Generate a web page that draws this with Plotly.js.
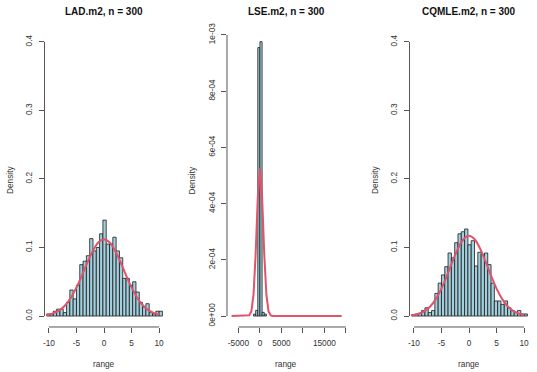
<!DOCTYPE html>
<html>
<head>
<meta charset="utf-8">
<script src="https://cdn.plot.ly/plotly-3.0.1.min.js"></script>
<style>
  body { margin: 0; background: #fff; }
  #plot-hist { width: 537px; height: 372px; }
</style>
</head>
<body>
<div id="plot-hist"></div>
<script>
// histogram densities, bins of 0.6 starting at -10.4
const binStart = -10.4;
const binWidth = 0.6;
const ladDensity = [0.003, 0.003, 0.007, 0.01, 0.01, 0.005, 0.02, 0.038, 0.025, 0.045,
    0.075, 0.08, 0.088, 0.113, 0.095, 0.1, 0.12, 0.14, 0.105, 0.105,
    0.115, 0.095, 0.085, 0.055, 0.055, 0.045, 0.05, 0.035, 0.02, 0.013,
    0.018, 0.005, 0.003, 0.007, 0.007];
const cqmleDensity = [0.002, 0.003, 0.004, 0.008, 0.012, 0.005, 0.008, 0.033, 0.048, 0.06,
    0.072, 0.092, 0.085, 0.107, 0.12, 0.123, 0.127, 0.104, 0.11, 0.073,
    0.093, 0.09, 0.092, 0.075, 0.048, 0.022, 0.022, 0.017, 0.022, 0.012,
    0.008, 0.005, 0.008, 0.003, 0.003];

// LSE bins are 500 wide
const lseBreaks = [-1500, -1000, -500, 0, 500, 1000, 1500];
const lseDensity = [6.7e-6, 2.0e-5, 9.55e-4, 9.76e-4, 1.3e-5, 6.7e-6];

// red density curves
const curveX = [-10.5, -10, -9, -8, -7, -6, -5, -4, -3, -2, -1, 0, 1, 2, 3, 4, 5, 6, 7, 8, 9, 10];
const ladCurve = [0.0014, 0.0022, 0.0046, 0.0089, 0.0161, 0.027, 0.0418, 0.0595, 0.0785, 0.0956, 0.1077,
    0.112, 0.1077, 0.0956, 0.0785, 0.0595, 0.0418, 0.027, 0.0161, 0.0089, 0.0046, 0.0022];
const cqmleCurve = [0.001, 0.0016, 0.0036, 0.0075, 0.0143, 0.025, 0.040, 0.0589, 0.0795, 0.0986, 0.112,
    0.117, 0.112, 0.0986, 0.0795, 0.0589, 0.040, 0.025, 0.0143, 0.0075, 0.0036, 0.0016];
const lseCurveX = [-6600, -3000, -2500, -2000, -1500, -1000, -500, 0, 500, 1000, 1500, 2000, 2500, 3000, 19000];
const lseCurve = [0, 0, 2.4e-6, 1.65e-5, 7.5e-5, 2.21e-4, 4.23e-4, 5.25e-4, 4.23e-4, 2.21e-4, 7.5e-5, 1.65e-5, 2.4e-6, 0, 0];

const titles = ["LAD.m2, n = 300", "LSE.m2, n = 300", "CQMLE.m2, n = 300"];
const smallTicks = [-10, -5, 0, 5, 10];
const densTicks = [0, 0.1, 0.2, 0.3, 0.4];
const densLabels = ["0.0", "0.1", "0.2", "0.3", "0.4"];
const lseXTicks = [-5000, 0, 5000, 10000, 15000, 20000];
const lseXLabels = ["-5000", "0", "5000", "", "15000", ""];
const lseYTicks = [0, 2e-4, 4e-4, 6e-4, 8e-4, 1e-3];
const lseYLabels = ["0e+00", "2e-04", "4e-04", "6e-04", "8e-04", "1e-03"];

const barFill = "#a3d0de";
const redLine = "#df536b";
const font = "Liberation Sans, Arial, sans-serif";

const xDomains = [[0.0829, 0.3045], [0.4227, 0.6443], [0.7626, 0.9842]];
const yDomain = [0.121, 0.9167];

function mids(start, width, n) {
    let out = [];
    for (let i = 0; i < n; i++) out.push(start + width * (i + 0.5));
    return out;
}

function histTrace(x, y, w, ax) {
    return {
        type: "bar", x: x, y: y, width: w,
        xaxis: "x" + ax, yaxis: "y" + ax,
        marker: {color: barFill, line: {color: "#1a1a1a", width: 0.8}},
        hoverinfo: "skip", showlegend: false
    };
}

function curveTrace(x, y, ax, shape) {
    return {
        type: "scatter", mode: "lines", x: x, y: y,
        xaxis: "x" + ax, yaxis: "y" + ax,
        line: {color: redLine, width: 2, shape: shape},
        hoverinfo: "skip", showlegend: false
    };
}

var lseMids = [];
var lseWidths = [];
for (let i = 0; i < lseDensity.length; i++) {
    lseMids.push((lseBreaks[i] + lseBreaks[i + 1]) / 2);
    lseWidths.push(lseBreaks[i + 1] - lseBreaks[i]);
}

var data = [
    histTrace(mids(binStart, binWidth, ladDensity.length), ladDensity, binWidth, ""),
    curveTrace(curveX, ladCurve, "", "spline"),
    histTrace(lseMids, lseDensity, lseWidths, "2"),
    curveTrace(lseCurveX, lseCurve, "2", "linear"),
    histTrace(mids(binStart, binWidth, cqmleDensity.length), cqmleDensity, binWidth, "3"),
    curveTrace(curveX, cqmleCurve, "3", "spline")
];

function xAxis(i, range, vals, labels) {
    return {
        domain: xDomains[i], range: range, anchor: i ? "y" + (i + 1) : "y",
        tickvals: vals, ticktext: labels,
        ticks: "outside", ticklen: 5, tickcolor: "#555", tickwidth: 1,
        ticklabelstandoff: 3,
        showgrid: false, zeroline: false, showline: false, fixedrange: true,
        tickfont: {family: font, size: 8.3, color: "#333"}
    };
}

function yAxis(i, range, vals, labels) {
    return {
        domain: yDomain, range: range, anchor: i ? "x" + (i + 1) : "x",
        tickvals: vals, ticktext: labels, tickangle: -90,
        ticks: "outside", ticklen: 5, tickcolor: "#555", tickwidth: 1,
        ticklabelstandoff: 3,
        showgrid: false, zeroline: false, showline: false, fixedrange: true,
        tickfont: {family: font, size: 8.3, color: "#333"}
    };
}

// R style axis lines: only from first to last tick
var shapes = [];
var xLines = [[-10, 10], [-5000, 20000], [-10, 10]];
var yLines = [[0, 0.4], [0, 1e-3], [0, 0.4]];
var annotations = [];
for (let i = 0; i < 3; i++) {
    let sfx = i ? String(i + 1) : "";
    shapes.push({type: "line", xref: "x" + sfx, yref: "paper",
        x0: xLines[i][0], x1: xLines[i][1], y0: yDomain[0], y1: yDomain[0],
        line: {color: "#555", width: 1}});
    shapes.push({type: "line", xref: "paper", yref: "y" + sfx,
        x0: xDomains[i][0], x1: xDomains[i][0], y0: yLines[i][0], y1: yLines[i][1],
        line: {color: "#555", width: 1}});
    let cx = (xDomains[i][0] + xDomains[i][1]) / 2;
    annotations.push({text: "<b>" + titles[i] + "</b>", xref: "paper", yref: "paper",
        x: cx, y: 0.9704, showarrow: false, xanchor: "center", yanchor: "middle",
        font: {family: font, size: 10, color: "#111"}});
    annotations.push({text: "range", xref: "paper", yref: "paper",
        x: cx, y: 0.0215, showarrow: false, xanchor: "center", yanchor: "middle",
        font: {family: font, size: 8.3, color: "#333"}});
    annotations.push({text: "Density", xref: "paper", yref: "paper",
        x: (10 + 182.5 * i) / 537, y: 0.516, textangle: -90, showarrow: false,
        xanchor: "center", yanchor: "middle",
        font: {family: font, size: 8.3, color: "#333"}});
}

var layout = {
    width: 537, height: 372,
    margin: {l: 0, r: 0, t: 0, b: 0},
    paper_bgcolor: "#fff", plot_bgcolor: "#fff",
    bargap: 0,
    xaxis: xAxis(0, [-10.8, 10.8], smallTicks, smallTicks.map(String)),
    yaxis: yAxis(0, [-0.016, 0.416], densTicks, densLabels),
    xaxis2: xAxis(1, [-7670, 20020], lseXTicks, lseXLabels),
    yaxis2: yAxis(1, [-3.9e-5, 1.014e-3], lseYTicks, lseYLabels),
    xaxis3: xAxis(2, [-10.8, 10.8], smallTicks, smallTicks.map(String)),
    yaxis3: yAxis(2, [-0.016, 0.416], densTicks, densLabels),
    shapes: shapes,
    annotations: annotations
};

Plotly.newPlot("plot-hist", data, layout, {staticPlot: true});
</script>
</body>
</html>
